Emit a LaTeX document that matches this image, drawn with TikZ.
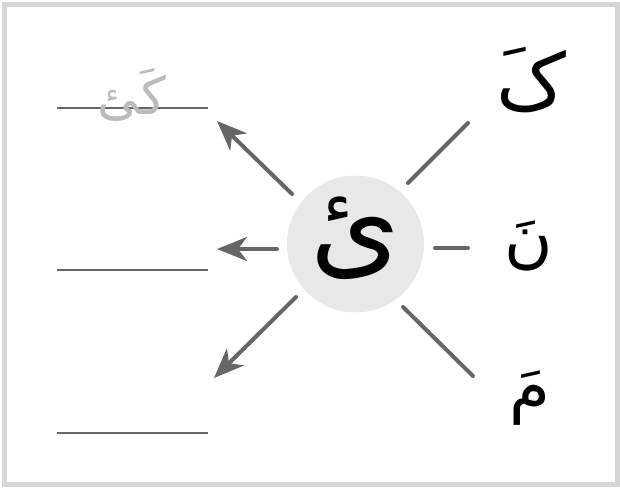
\documentclass[tikz,border=0pt]{standalone}
\usepackage{fontspec}
\usetikzlibrary{arrows.meta}
\TeXXeTstate=1
\newfontfamily\arabicfont[Script=Arabic]{DejaVu Sans}
\definecolor{framegray}{HTML}{D6D6D6}
\definecolor{circfill}{HTML}{E7E8E9}
\definecolor{linegray}{HTML}{666666}
\definecolor{hintgray}{HTML}{BBBBBB}
\tikzset{
  ray/.style={draw=linegray, line width=4pt, line cap=round},
  arrowray/.style={ray, -{Stealth[length=30pt,width=24pt,inset=9pt]}},
  writeline/.style={draw=linegray, line width=1.3pt},
  letter/.style={inner sep=0pt, font=\fontsize{66}{80}\arabicfont}
}
\begin{document}
\begin{tikzpicture}[x=1pt,y=-1pt]
\useasboundingbox (0,0) rectangle (620,489);
\draw[framegray, line width=5pt] (4.5,4.5) rectangle (617.5,484.5);
% center circle
\node[circle, fill=circfill, minimum size=137pt, inner sep=0pt] (c) at (355.5,244) {};
\node[inner sep=0pt, font=\fontsize{115}{130}\arabicfont] (ya) at (356,238) {\beginR ئ\endR};
% right letters
\node[letter, font=\fontsize{78}{90}\arabicfont] (k) at (531,80) {\beginR کَ\endR};
\node[letter] (n) at (529,246) {\beginR نَ\endR};
\node[letter] (m) at (530,398) {\beginR مَ\endR};
% writing lines
\coordinate (l1a) at (57,108); \coordinate (l1b) at (208,108);
\coordinate (l2a) at (57,270); \coordinate (l2b) at (208,270);
\coordinate (l3a) at (57,433); \coordinate (l3b) at (208,433);
\draw[writeline] (l1a) -- (l1b);
\draw[writeline] (l2a) -- (l2b);
\draw[writeline] (l3a) -- (l3b);
% hint word
\node[inner sep=0pt, text=hintgray, font=\fontsize{52}{60}\arabicfont] (hint) at (132,95) {\beginR کَئ\endR};
% right rays
\coordinate (r1a) at (468,123); \coordinate (r1b) at (408,183);
\coordinate (r2a) at (468,248); \coordinate (r2b) at (435,248);
\coordinate (r3a) at (473,376); \coordinate (r3b) at (403,307);
\draw[ray] (r1a) -- (r1b);
\draw[ray] (r2a) -- (r2b);
\draw[ray] (r3a) -- (r3b);
% left arrows
\coordinate (a1a) at (292,194); \coordinate (a1b) at (217,121);
\coordinate (a2a) at (277,249); \coordinate (a2b) at (217,249);
\coordinate (a3a) at (296,297); \coordinate (a3b) at (214,378);
\draw[arrowray] (a1a) -- (a1b);
\draw[arrowray] (a2a) -- (a2b);
\draw[arrowray] (a3a) -- (a3b);
\end{tikzpicture}
\end{document}
